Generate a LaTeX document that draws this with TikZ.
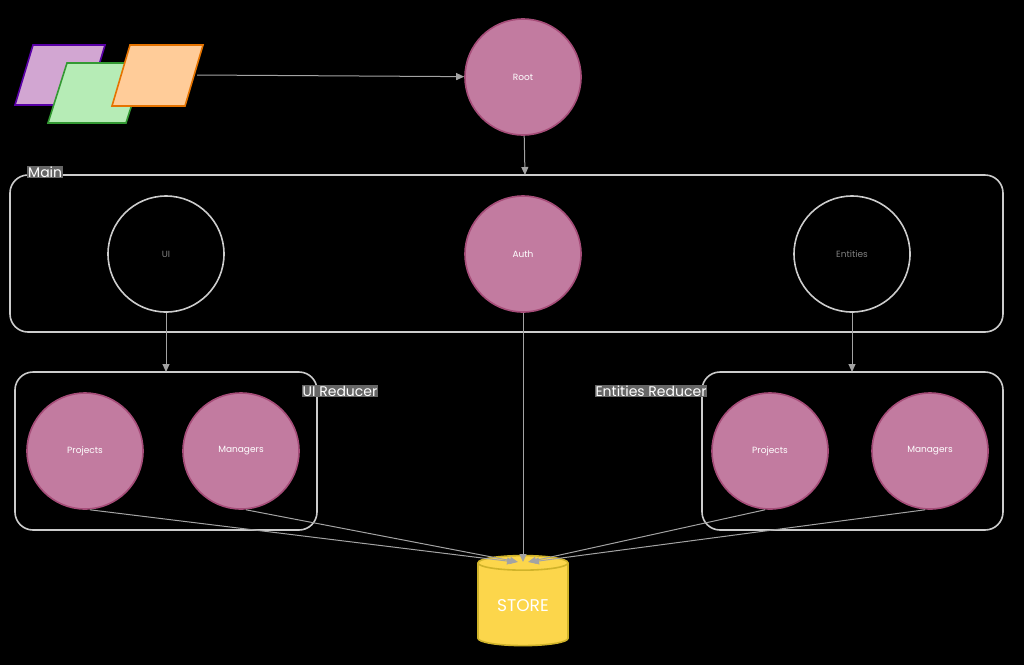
\documentclass[tikz,border=0pt]{standalone}
\usepackage{fontspec}
\setmainfont{Poppins}
\usetikzlibrary{shapes.geometric,arrows.meta}
\definecolor{pk}{HTML}{C27BA0}
\definecolor{pkd}{HTML}{A64D79}
\definecolor{ln}{HTML}{CCCCCC}
\begin{document}
\begin{tikzpicture}[x=1pt,y=-1pt,
 pn/.style={circle,draw=pkd,fill=pk,line width=1.6pt,minimum size=116pt,inner sep=0,text=white,font=\fontsize{9}{10}\selectfont},
 en/.style={circle,draw=ln,line width=1.6pt,minimum size=116pt,inner sep=0,text=gray,font=\fontsize{9}{10}\selectfont},
 box/.style={draw=ln,line width=1.6pt,rounded corners=18pt},
 lab/.style={fill=black!60!white,text=white,inner sep=1pt,font=\fontsize{14}{16}\selectfont},
 ar/.style={draw=ln!80!black,line width=1pt,-{Triangle[length=8pt,width=7pt]}},
 pg/.style={line width=1.6pt}]
\fill[black] (0,0) rectangle (1024,665);
\useasboundingbox (0,0) rectangle (1024,665);
\draw[pg,draw=violet!70!blue,fill=violet!35!white] (33,45)--(105,45)--(87,105)--(15,105)--cycle;
\draw[pg,draw=green!50!black!80,fill=green!25!white!85!gray] (67,63)--(145,63)--(126,123)--(48,123)--cycle;
\draw[pg,draw=orange!90!black,fill=orange!40!white] (130,45)--(203,45)--(185,106)--(112,106)--cycle;
\coordinate (pgr) at (197,75);
\node[pn] (root) at (523,77) {Root};
\draw[box] (10,175) rectangle (1003,332);
\node[lab,anchor=west] at (27,172) {Main};
\coordinate (maintop) at (525,175);
\node[en] (ui) at (166,254) {UI};
\node[pn] (auth) at (523,254) {Auth};
\node[en] (ent) at (852,254) {Entities};
\draw[box] (15,372) rectangle (317,530);
\draw[box] (702,372) rectangle (1003,530);
\coordinate (uitop) at (166,372);
\coordinate (enttop) at (852,372);
\node[lab] at (340,391) {UI Reducer};
\node[lab] at (651,391) {Entities Reducer};
\node[pn] (p1) at (85,451) {Projects};
\node[pn] (m1) at (241,451) {Managers};
\node[pn] (p2) at (770,451) {Projects};
\node[pn] (m2) at (930,451) {Managers};
\node[cylinder,shape border rotate=90,aspect=0.25,draw=yellow!70!orange!80!black,fill=yellow!60!orange!70,line width=1.6pt,
  minimum width=90pt,minimum height=90pt,text=white,font=\fontsize{17}{18}\selectfont,
  cylinder uses custom fill,cylinder end fill=yellow!40!orange!40,cylinder body fill=yellow!60!orange!65] (st) at (523,606) {STORE};
\coordinate (s) at (523,562);
\draw[ar] (pgr) -- (root);
\draw[ar] (root) -- (maintop);
\draw[ar] (auth) -- (s);
\draw[ar] (ui) -- (uitop);
\draw[ar] (ent) -- (enttop);
\draw[ar] (p1.south) ++(5,0) -- ([xshift=-8pt]s);
\draw[ar] (m1.south) ++(5,0) -- ([xshift=-5pt]s);
\draw[ar] (p2.south) ++(-5,0) -- ([xshift=5pt]s);
\draw[ar] (m2.south) ++(-5,0) -- ([xshift=8pt]s);
\end{tikzpicture}
\end{document}
